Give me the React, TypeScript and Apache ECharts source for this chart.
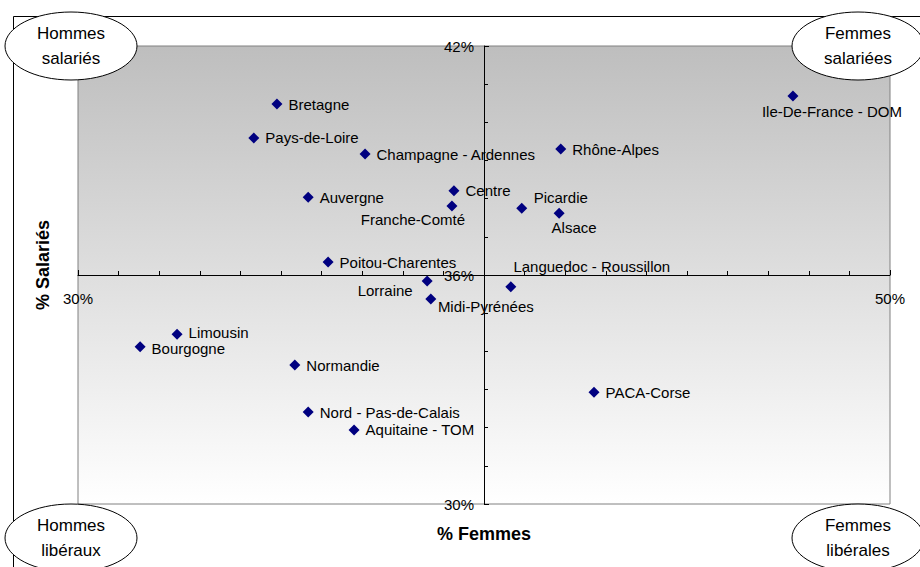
import React, { useEffect, useRef } from 'react';
import * as echarts from 'echarts';

const regions = [
  'Bretagne', 'Pays-de-Loire', 'Champagne - Ardennes', 'Auvergne', 'Centre',
  'Franche-Comté', 'Picardie', 'Alsace', 'Rhône-Alpes', 'Ile-De-France - DOM',
  'Poitou-Charentes', 'Lorraine', 'Midi-Pyrénées', 'Languedoc - Roussillon', 'Limousin',
  'Bourgogne', 'Normandie', 'Nord - Pas-de-Calais', 'Aquitaine - TOM', 'PACA-Corse',
];
const femmes = [
  34.9, 34.33, 37.07, 35.67, 39.26,
  39.21, 40.93, 41.85, 41.89, 47.61,
  36.16, 38.6, 38.69, 40.66, 32.44,
  31.53, 35.34, 35.67, 36.8, 42.71,
];
const salaries = [
  40.48, 39.59, 39.17, 38.04, 38.21,
  37.81, 37.75, 37.62, 39.3, 40.69,
  36.34, 35.84, 35.37, 35.69, 34.45,
  34.12, 33.64, 32.41, 31.94, 32.93,
];
const xMin = 30, xMax = 50, xCross = 40;
const yMin = 30, yMax = 42, yCross = 36;
const xTitle = '% Femmes';
const yTitle = '% Salariés';
const quadrantLabels = ['Hommes\nsalariés', 'Femmes\nsalariées', 'Hommes\nlibéraux', 'Femmes\nlibérales'];

// label placement (style only): offset from the point centre
const labelOffsets: Record<string, [number, number]> = {
  'Franche-Comté': [-39, 14],
  'Picardie': [39, -11],
  'Alsace': [15, 14],
  'Ile-De-France - DOM': [39, 16],
  'Lorraine': [-42, 9],
  'Midi-Pyrénées': [55, 7],
  'Languedoc - Roussillon': [81, -20],
};
// small vertical nudges for right-placed labels
const labelNudges: Record<string, number> = {
  'Limousin': -2,
  'Bourgogne': 2,
};

const FONT = 'Arial, "Liberation Sans", sans-serif';

export default function App() {
  const ref = useRef<HTMLDivElement>(null);
  useEffect(() => {
    if (!ref.current) return;
    const chart = echarts.init(ref.current, undefined, { renderer: 'svg' });
    const gridLeft = 78, gridTop = 46, gridW = 812, gridH = 458;
    const data = regions.map((name, i) => {
      const off = labelOffsets[name];
      const item: any = { name, value: [femmes[i], salaries[i]] };
      if (off) {
        item.label = { position: 'inside', offset: off, align: 'center', verticalAlign: 'middle' };
      } else if (labelNudges[name]) {
        item.label = { offset: [0, labelNudges[name]] };
      }
      return item;
    });
    const ellipse = (cx: number, cy: number, text: string) => ({
      type: 'group',
      children: [
        { type: 'ellipse', shape: { cx, cy, rx: 66, ry: 34 }, style: { fill: '#fff', stroke: '#000', lineWidth: 1 }, z: 100 },
        {
          type: 'text', x: cx, y: cy, z: 101,
          style: { text, fill: '#000', font: `17px ${FONT}`, align: 'center', verticalAlign: 'middle', lineHeight: 25 },
        },
      ],
    });
    chart.setOption({
      animation: false,
      backgroundColor: '#fff',
      grid: {
        left: gridLeft, top: gridTop, width: gridW, height: gridH,
        show: true, borderColor: '#808080', borderWidth: 1,
        backgroundColor: {
          type: 'linear', x: 0, y: 0, x2: 0, y2: 1,
          colorStops: [{ offset: 0, color: '#bebebe' }, { offset: 1, color: '#ffffff' }],
        },
      },
      xAxis: {
        type: 'value', min: xMin, max: xMax, interval: xMax - xMin,
        position: 'bottom', offset: -gridH * (yCross - yMin) / (yMax - yMin),
        axisLine: { show: true, onZero: false, lineStyle: { color: '#000', width: 1 } },
        axisTick: { show: true, inside: true, length: 5, lineStyle: { color: '#000' } },
        minorTick: { show: true, splitNumber: 20, length: 4, lineStyle: { color: '#000' } },
        splitLine: { show: false },
        axisLabel: { formatter: '{value}%', color: '#000', fontSize: 15, fontFamily: FONT, margin: 16 },
      },
      yAxis: {
        type: 'value', min: yMin, max: yMax, interval: 6,
        position: 'left', offset: -gridW * (xCross - xMin) / (xMax - xMin),
        axisLine: { show: true, onZero: false, lineStyle: { color: '#000', width: 1 } },
        axisTick: { show: true, inside: true, length: 5, lineStyle: { color: '#000' } },
        minorTick: { show: true, splitNumber: 6, length: 4, lineStyle: { color: '#000' } },
        splitLine: { show: false },
        axisLabel: { formatter: '{value}%', color: '#000', fontSize: 15, fontFamily: FONT, margin: 10 },
      },
      series: [{
        type: 'scatter',
        symbol: 'diamond',
        symbolSize: 11,
        itemStyle: { color: '#000080', opacity: 1 },
        label: {
          show: true, position: 'right', distance: 6, lineHeight: 13,
          formatter: '{b}', color: '#000', fontSize: 15, fontFamily: FONT,
        },
        data,
      }],
      graphic: [
        { type: 'rect', shape: { x: 13.5, y: 16.5, width: 1200, height: 1200 }, style: { fill: 'none', stroke: '#000', lineWidth: 1 }, z: 90, silent: true },
        {
          type: 'text', x: 484, y: 534, z: 101,
          style: { text: xTitle, fill: '#000', font: `bold 18px ${FONT}`, align: 'center', verticalAlign: 'middle' },
        },
        {
          type: 'text', x: 43, y: 265, rotation: Math.PI / 2, z: 101,
          style: { text: yTitle, fill: '#000', font: `bold 18px ${FONT}`, align: 'center', verticalAlign: 'middle' },
        },
        ellipse(71, 46, quadrantLabels[0]),
        ellipse(858, 46, quadrantLabels[1]),
        ellipse(71, 538, quadrantLabels[2]),
        ellipse(858, 538, quadrantLabels[3]),
      ],
    });
    return () => chart.dispose();
  }, []);
  return <div ref={ref} style={{ position: 'fixed', left: 0, top: 0, width: 920, height: 567 }} />;
}
